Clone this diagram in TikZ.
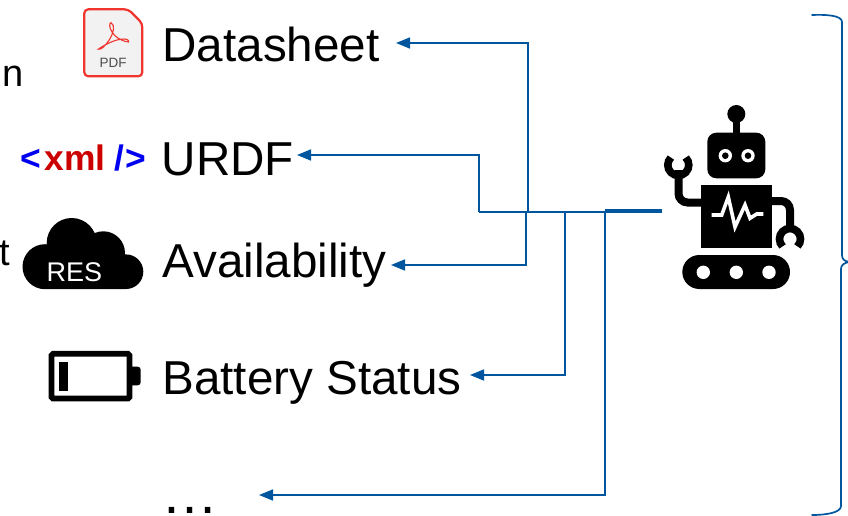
\documentclass[tikz,border=0pt]{standalone}
\usepackage{fontspec}
\setmainfont{Liberation Sans}
\usetikzlibrary{arrows.meta}
\definecolor{linkblue}{HTML}{00569E}
\definecolor{pdfred}{HTML}{F0352E}
\definecolor{xmlblue}{HTML}{0000F0}
\definecolor{xmlred}{HTML}{CC0000}
\tikzset{
  label text/.style={anchor=base west,inner sep=0pt,font=\fontsize{47.6pt}{50pt}\selectfont},
  side text/.style={anchor=base east,inner sep=0pt,font=\fontsize{38pt}{40pt}\selectfont},
  link/.style={draw=linkblue,line width=1.7pt,-{Triangle[length=14pt,width=11pt]},line join=miter},
  trunk/.style={draw=linkblue,line width=1.7pt},
  robot part/.style={draw=black,line width=8pt}
}
\begin{document}
\begin{tikzpicture}[x=1pt,y=-1pt]
\useasboundingbox (0,0) rectangle (848,516);
\clip (0,0) rectangle (848,516);

% clipped text at the left edge
\node[side text] (frag1) at (24.3,87) {g\hspace{4.5pt}n};
\node[side text] (frag2) at (10,265) {t};

% labels
\node[label text] (datasheet) at (162.3,62) {Datasheet};
\node[label text] (urdf) at (161.5,175) {URDF};
\node[label text] (avail) at (162.3,277) {Availability};
\node[label text] (battery) at (162.3,394) {Battery Status};
\node[label text,font=\fontsize{57pt}{58pt}\selectfont] (more) at (161,513) {…};

% PDF icon
\draw[pdfred,line width=2.2pt,fill=black!5,rounded corners=4pt]
  (84.3,9.3) -- (128.3,9.3) -- (142.3,23.3) -- (142.3,76.3) -- (84.3,76.3) -- cycle;
\draw[pdfred,line width=1.1pt]
  (111,22.7) .. controls (107,24) and (112,40) .. (128.5,42)
  .. controls (130,38) and (118,36) .. (98.5,49)
  .. controls (103,52) and (120,28) .. (111,22.7) -- cycle;
\node[inner sep=0pt,text=black!70,font=\fontsize{13.5pt}{13.5pt}\selectfont,anchor=base] (pdf) at (113,67.5) {PDF};

% xml icon
\node[anchor=base west,inner sep=0pt,font=\bfseries\fontsize{35.4pt}{36pt}\selectfont] (xml) at (20.5,170)
  {\textcolor{xmlblue}{<}\hspace{3pt}\textcolor{xmlred}{xml}\hspace{9pt}\textcolor{xmlblue}{/\hspace{1pt}>}};

% cloud icon
\fill[black] (45,266.7) circle[radius=22.5pt] (71.7,243) circle[radius=25pt]
  (103.3,253) circle[radius=21.7pt] (126,271.7) circle[radius=17.3pt]
  (45,262) rectangle (126,289);
\node[anchor=base,inner sep=0pt,text=white,font=\fontsize{27pt}{27pt}\selectfont] (res) at (74.5,281.7) {RES};

% battery icon
\draw[black,line width=5.7pt,rounded corners=1.5pt] (51.5,353.8) rectangle (129.5,398.5);
\fill[black,rounded corners=3pt] (128,366.7) rectangle (140.7,385.3);
\fill[black] (58.7,361.7) rectangle (67.7,391);

% robot
\fill[black] (736.3,114) circle[radius=9pt];
\fill[black] (732.6,114) rectangle (740,136);
\fill[black,rounded corners=9pt] (707.3,132.7) rectangle (765.3,178.3);
\fill[white] (725.3,155.7) circle[radius=6.7pt] (748,155.7) circle[radius=6.7pt];
\fill[black] (725.3,155.7) circle[radius=3.3pt] (748,155.7) circle[radius=3.3pt];
\fill[black] (700.7,185) rectangle (772.3,248.3);
\draw[white,line width=3.6pt]
  (711.7,215) -- (721.7,215) -- (728.3,197) -- (735,227) -- (745,205) -- (750,218.3) -- (756.7,214) -- (763.3,214);
\fill[black,rounded corners=17pt] (682.3,255) rectangle (790,289);
\fill[white] (703.3,272.3) circle[radius=6.7pt] (736.3,272.3) circle[radius=6.7pt] (769,272.3) circle[radius=6.7pt];
\draw[robot part,rounded corners=9pt] (701,202.5) -- (678.5,202.5) -- (678.5,170);
\draw[robot part,line width=7.6pt] (678.3,165) ++(135:10.5pt) arc[start angle=135,end angle=405,radius=10.5pt];
\draw[robot part,rounded corners=9pt] (772,201) -- (790,201) -- (790,226);
\draw[robot part,line width=7.6pt] (790,239) ++(-45:10.5pt) arc[start angle=-45,end angle=225,radius=10.5pt];

% connectors
\coordinate (port) at (662,210.8);
\coordinate (junction) at (605.3,210.8);
\coordinate (hub) at (605.3,212);
\coordinate (urdfturn) at (478.7,212);
\coordinate (tipD) at (396,43);
\coordinate (tipU) at (297,155);
\coordinate (tipA) at (391,265);
\coordinate (tipB) at (470,375);
\coordinate (tipM) at (259,495);
\coordinate (busD) at (528,212);
\coordinate (busA) at (525.7,212);
\coordinate (busB) at (565,212);
\draw[draw=linkblue,line width=3.7pt] (junction) -- (port);
\draw[trunk] (hub) -- (urdfturn);
\draw[link] (busD) |- (tipD);
\draw[link] (urdfturn) |- (tipU);
\draw[link] (busA) |- (tipA);
\draw[link] (busB) |- (tipB);
\draw[link] (hub) |- (tipM);

% brace
\draw[draw=linkblue,line width=1.7pt]
  (811.5,15) .. controls (825,14.5) and (842,15) .. (842,22)
  -- (842,255) .. controls (842,259) and (844,261) .. (849,262)
  .. controls (844,263) and (841,265) .. (841,269)
  -- (841,506) .. controls (841,513) and (825,515) .. (811.5,515);
\end{tikzpicture}
\end{document}
